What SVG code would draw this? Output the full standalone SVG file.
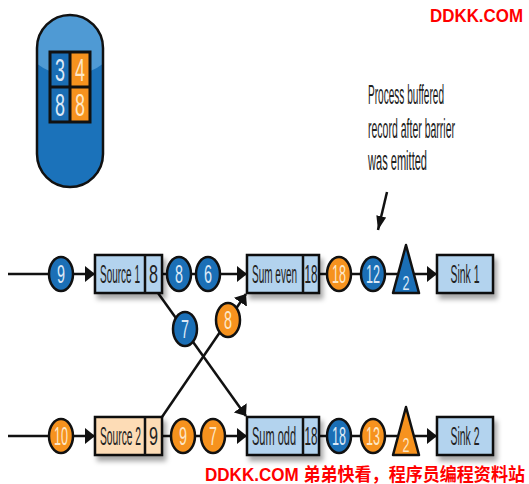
<svg xmlns="http://www.w3.org/2000/svg" width="529" height="484" viewBox="0 0 529 484">
<style>
.ln{stroke:#111;stroke-width:2.5;fill:none}
.box{stroke:#111;stroke-width:2.5;filter:url(#sh)}
.bl{fill:#b3d3ee}
.pe{fill:#fddcb6}
.cb{fill:#1b6fb6;stroke:#111;stroke-width:2.5}
.co{fill:#f6921e;stroke:#111;stroke-width:2.5}
.t{font-family:"Liberation Sans",Arial,sans-serif;font-size:25px;text-anchor:middle}
.big{font-size:32px}
.tri{font-size:21px}
.tb{fill:#dce9f7}
.to{fill:#fde7c6}
.tk{fill:#222}
.ann{font-family:"Liberation Sans",Arial,sans-serif;font-size:27px;fill:#222}
.wm{font-family:"Liberation Sans","Noto Sans CJK SC",sans-serif;font-weight:bold;fill:#ff0000;font-size:18px}
</style>
<defs>
<filter id="sh" x="-20%" y="-20%" width="150%" height="170%">
<feDropShadow dx="3" dy="5" stdDeviation="2.5" flood-color="#000" flood-opacity="0.35"/>
</filter>
<marker id="ah" markerUnits="userSpaceOnUse" markerWidth="12" markerHeight="16" refX="10" refY="8" orient="auto">
<path d="M0,0 L10,8 L0,16 z" fill="#111"/>
</marker>
<marker id="ap" markerUnits="userSpaceOnUse" markerWidth="16" markerHeight="10" refX="14" refY="5" orient="auto">
<path d="M0,0 L14,5 L0,10 z" fill="#111"/>
</marker>
<clipPath id="pillc"><rect x="37" y="15" width="66" height="172" rx="33" ry="33"/></clipPath>
</defs>

<g id="legend">
<rect x="37" y="15" width="66" height="172" rx="33" ry="33" fill="#1b72ba"/>
<ellipse cx="70" cy="25" rx="52" ry="50" fill="#4f9ad4" clip-path="url(#pillc)"/>
<rect x="37" y="15" width="66" height="172" rx="33" ry="33" fill="none" stroke="#111" stroke-width="2.5"/>
<rect x="50" y="52" width="20" height="35" fill="#1a6db4"/>
<rect x="70" y="52" width="20" height="35" fill="#f6921e"/>
<rect x="50" y="87" width="20" height="35" fill="#1a6db4"/>
<rect x="70" y="87" width="20" height="35" fill="#f6921e"/>
<path d="M50,52 H90 V122 H50 Z M70,52 V122 M50,87 H90" fill="none" stroke="#111" stroke-width="3"/>
<text class="t big tb" x="60" y="81" textLength="10" lengthAdjust="spacingAndGlyphs">3</text>
<text class="t big to" x="80" y="81" textLength="10" lengthAdjust="spacingAndGlyphs">4</text>
<text class="t big tb" x="60" y="116" textLength="10" lengthAdjust="spacingAndGlyphs">8</text>
<text class="t big to" x="80" y="116" textLength="10" lengthAdjust="spacingAndGlyphs">8</text>
</g>

<g id="annotation">
<text class="ann" x="368" y="104" textLength="76" lengthAdjust="spacingAndGlyphs">Process buffered</text>
<text class="ann" x="368" y="138" textLength="87" lengthAdjust="spacingAndGlyphs">record after barrier</text>
<text class="ann" x="368" y="170" textLength="59" lengthAdjust="spacingAndGlyphs">was emitted</text>
</g>

<g id="connectors">
<line class="ln" x1="8" y1="274" x2="95" y2="274" marker-end="url(#ah)"/>
<line class="ln" x1="162" y1="274" x2="247" y2="274" marker-end="url(#ah)"/>
<line class="ln" x1="319" y1="274" x2="437" y2="274" marker-end="url(#ah)"/>
<line class="ln" x1="8" y1="436" x2="95" y2="436" marker-end="url(#ah)"/>
<line class="ln" x1="162" y1="436" x2="247" y2="436" marker-end="url(#ah)"/>
<line class="ln" x1="319" y1="436" x2="437" y2="436" marker-end="url(#ah)"/>
<line class="ln" x1="158" y1="293" x2="246" y2="416" marker-end="url(#ah)"/>
<line class="ln" x1="162" y1="417" x2="246" y2="294" marker-end="url(#ah)"/>
<line class="ln" x1="387" y1="192" x2="378" y2="230" marker-end="url(#ap)"/>
</g>

<g id="source1">
<rect class="box bl" x="95" y="255" width="67" height="38"/>
<line class="ln" x1="145" y1="255" x2="145" y2="293"/>
<text class="t tk" x="120" y="283" textLength="40" lengthAdjust="spacingAndGlyphs">Source 1</text>
<text class="t tk" x="153.5" y="283" textLength="9" lengthAdjust="spacingAndGlyphs">8</text>
</g>
<g id="source2">
<rect class="box pe" x="95" y="417" width="67" height="38"/>
<line class="ln" x1="145" y1="417" x2="145" y2="455"/>
<text class="t tk" x="120.5" y="445" textLength="41" lengthAdjust="spacingAndGlyphs">Source 2</text>
<text class="t tk" x="153.5" y="445" textLength="9" lengthAdjust="spacingAndGlyphs">9</text>
</g>
<g id="sumeven">
<rect class="box bl" x="247" y="255" width="72" height="38"/>
<line class="ln" x1="303" y1="255" x2="303" y2="293"/>
<text class="t tk" x="274.5" y="283" textLength="45" lengthAdjust="spacingAndGlyphs">Sum even</text>
<text class="t tk" x="311" y="283" textLength="13" lengthAdjust="spacingAndGlyphs">18</text>
</g>
<g id="sumodd">
<rect class="box bl" x="247" y="417" width="72" height="38"/>
<line class="ln" x1="303" y1="417" x2="303" y2="455"/>
<text class="t tk" x="274" y="445" textLength="44" lengthAdjust="spacingAndGlyphs">Sum odd</text>
<text class="t tk" x="311" y="445" textLength="13" lengthAdjust="spacingAndGlyphs">18</text>
</g>
<g id="sink1">
<rect class="box bl" x="437" y="255" width="56" height="38"/>
<text class="t tk" x="465" y="283" textLength="29" lengthAdjust="spacingAndGlyphs">Sink 1</text>
</g>
<g id="sink2">
<rect class="box bl" x="437" y="417" width="56" height="38"/>
<text class="t tk" x="465" y="445" textLength="29" lengthAdjust="spacingAndGlyphs">Sink 2</text>
</g>

<g id="rec-9-in">
<ellipse class="cb" cx="61" cy="274" rx="12" ry="17"/>
<text class="t tb" x="61" y="283" textLength="8" lengthAdjust="spacingAndGlyphs">9</text>
</g>
<g id="rec-8-s1">
<ellipse class="cb" cx="179" cy="274" rx="12" ry="17"/>
<text class="t tb" x="179" y="283" textLength="8" lengthAdjust="spacingAndGlyphs">8</text>
</g>
<g id="rec-6-s1">
<ellipse class="cb" cx="208" cy="274" rx="12" ry="17"/>
<text class="t tb" x="208" y="283" textLength="8" lengthAdjust="spacingAndGlyphs">6</text>
</g>
<g id="rec-7-s1">
<ellipse class="cb" cx="185" cy="329" rx="12" ry="17"/>
<text class="t tb" x="185" y="338" textLength="8" lengthAdjust="spacingAndGlyphs">7</text>
</g>
<g id="rec-8-s2">
<ellipse class="co" cx="228" cy="320" rx="12" ry="17"/>
<text class="t to" x="228" y="329" textLength="8" lengthAdjust="spacingAndGlyphs">8</text>
</g>
<g id="rec-18-even">
<ellipse class="co" cx="339" cy="274" rx="12" ry="17"/>
<text class="t to" x="339" y="283" textLength="14" lengthAdjust="spacingAndGlyphs">18</text>
</g>
<g id="rec-12-even">
<ellipse class="cb" cx="373" cy="274" rx="12" ry="17"/>
<text class="t tb" x="373" y="283" textLength="14" lengthAdjust="spacingAndGlyphs">12</text>
</g>
<g id="barrier-even">
<path d="M406,245 L419,293 L393,293 Z" fill="#1b6fb6" stroke="#111" stroke-width="2.5" stroke-linejoin="round"/>
<text class="t tri tb" x="406" y="290" textLength="7" lengthAdjust="spacingAndGlyphs">2</text>
</g>
<g id="rec-10-in">
<ellipse class="co" cx="61" cy="436" rx="12" ry="17"/>
<text class="t to" x="61" y="445" textLength="14" lengthAdjust="spacingAndGlyphs">10</text>
</g>
<g id="rec-9-s2">
<ellipse class="co" cx="183" cy="436" rx="12" ry="17"/>
<text class="t to" x="183" y="445" textLength="8" lengthAdjust="spacingAndGlyphs">9</text>
</g>
<g id="rec-7-s2">
<ellipse class="co" cx="213" cy="436" rx="12" ry="17"/>
<text class="t to" x="213" y="445" textLength="8" lengthAdjust="spacingAndGlyphs">7</text>
</g>
<g id="rec-18-odd">
<ellipse class="cb" cx="339" cy="436" rx="12" ry="17"/>
<text class="t tb" x="339" y="445" textLength="14" lengthAdjust="spacingAndGlyphs">18</text>
</g>
<g id="rec-13-odd">
<ellipse class="co" cx="373" cy="436" rx="12" ry="17"/>
<text class="t to" x="373" y="445" textLength="14" lengthAdjust="spacingAndGlyphs">13</text>
</g>
<g id="barrier-odd">
<path d="M406,407 L419,455 L393,455 Z" fill="#f6921e" stroke="#111" stroke-width="2.5" stroke-linejoin="round"/>
<text class="t tri to" x="406" y="452" textLength="7" lengthAdjust="spacingAndGlyphs">2</text>
</g>

<g id="watermarks">
<text class="wm" x="430" y="22" textLength="93" lengthAdjust="spacingAndGlyphs">DDKK.COM</text>
<text class="wm" x="205" y="481" textLength="320" lengthAdjust="spacingAndGlyphs">DDKK.COM 弟弟快看，程序员编程资料站</text>
</g>
</svg>
